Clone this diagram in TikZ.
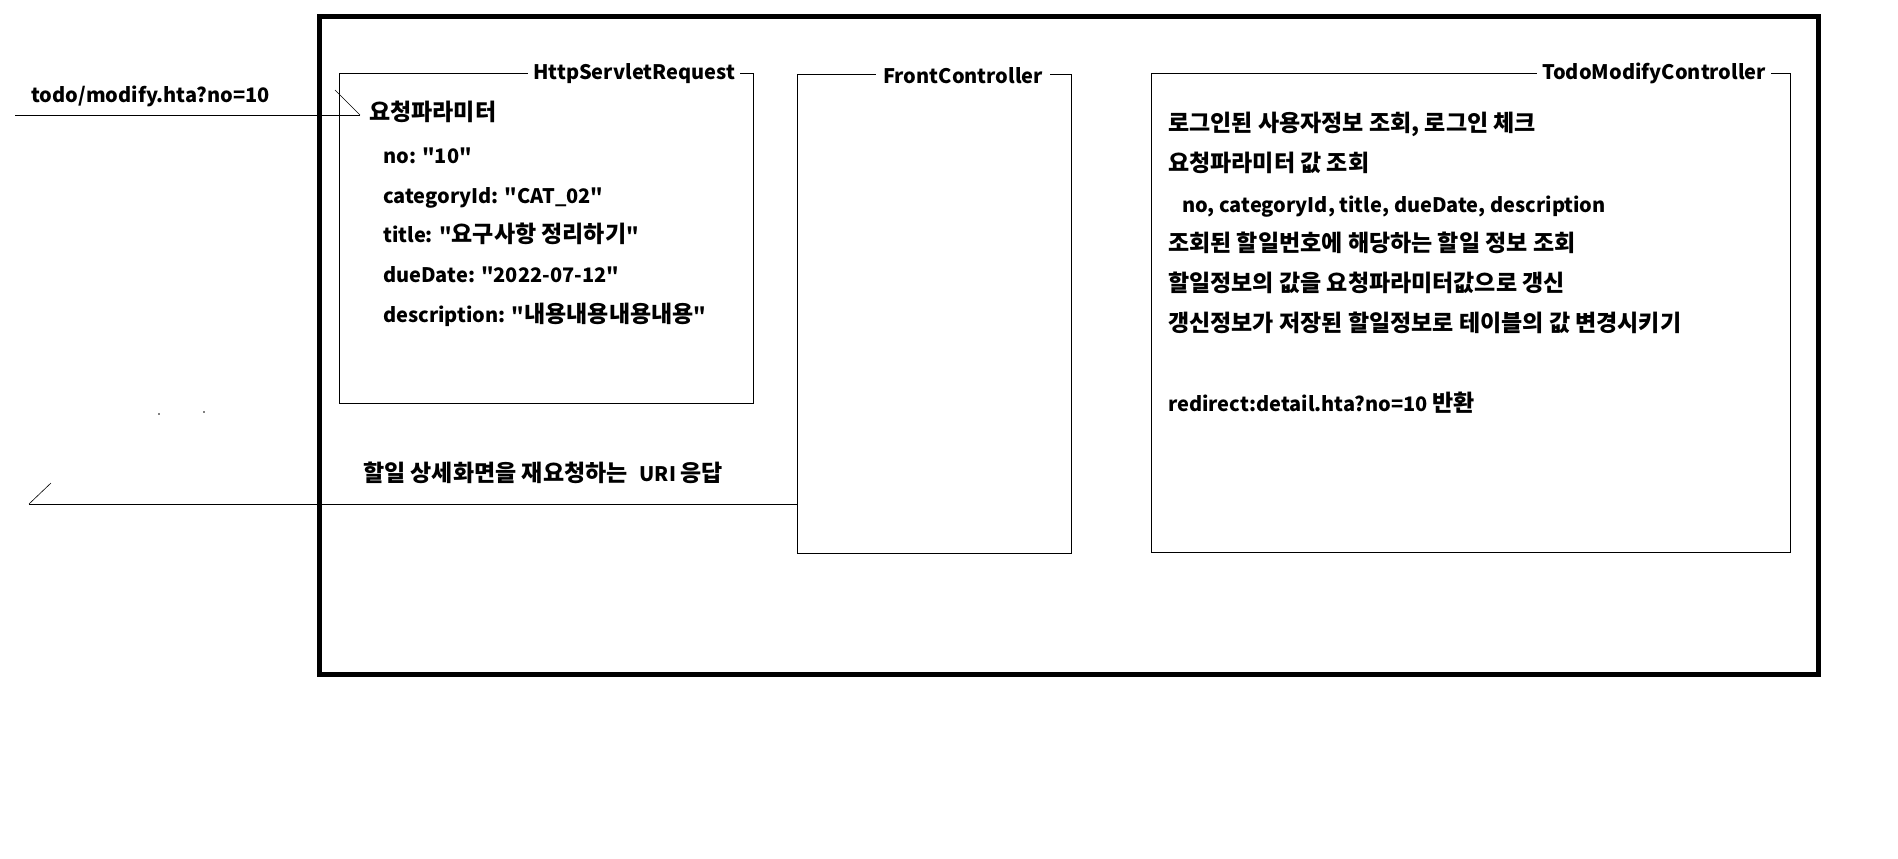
\documentclass[tikz,border=0pt]{standalone}
\usepackage{fontspec}
\setmainfont{Noto Sans CJK KR}[Ligatures=TeXOff]
\newfontfamily\krfont{Noto Sans CJK KR}[Scale=1.15,Ligatures=TeXOff]
\newcommand{\ko}[1]{{\krfont\bfseries #1}}
\newcommand{\qq}{\char34\relax}
\begin{document}
\begin{tikzpicture}[x=1pt,y=-1pt,
  box/.style={draw=black,line width=1pt,inner sep=0pt,fill=none},
  ttl/.style={fill=white,inner xsep=5pt,inner ysep=1pt,anchor=base west,font=\bfseries\fontsize{20}{24}\selectfont},
  txt/.style={inner sep=0pt,anchor=base west,font=\bfseries\fontsize{20}{24}\selectfont},
  conn/.style={draw=black,line width=1pt},
  tick/.style={draw=black,line width=0.6pt}]
\useasboundingbox (0,0) rectangle (1898,859);
\fill[white] (0,0) rectangle (1898,859);
% outer frame
\node[draw=black,line width=5pt,inner sep=0pt,minimum width=1499pt,minimum height=657pt] (outer) at (1068.5,345.5) {};
% boxes
\node[box,minimum width=414pt,minimum height=329pt] (req) at (546,238.5) {};
\node[box,minimum width=274pt,minimum height=478pt] (front) at (934,314) {};
\node[box,minimum width=639pt,minimum height=478pt] (todo) at (1470.5,313) {};
% titles
\node[ttl] (reqt) at (528,79) {HttpServletRequest};
\node[ttl,inner xsep=7pt] (frontt) at (876,83) {FrontController};
\node[ttl] (todot) at (1537,79) {TodoModifyController};
% request box contents
\node[txt,inner xsep=9pt] (param) at (360,121) {\ko{요청파라미터}};
\node[txt] (p1) at (383,163) {no: \qq10\qq};
\node[txt] (p2) at (383,203) {categoryId: \qq CAT\_02\qq};
\node[txt] (p3) at (383,242) {title: \qq\ko{요구사항 정리하기}\qq};
\node[txt] (p4) at (383,282) {dueDate: \qq2022-07-12\qq};
\node[txt] (p5) at (383,322) {description: \qq\ko{내용내용내용내용}\qq};
% controller contents
\node[txt] (c1) at (1168,131) {\ko{로그인된 사용자정보 조회, 로그인 체크}};
\node[txt] (c2) at (1168,171) {\ko{요청파라미터 값 조회}};
\node[txt] (c3) at (1182,212) {no, categoryId, title, dueDate, description};
\node[txt] (c4) at (1168,251) {\ko{조회된 할일번호에 해당하는 할일 정보 조회}};
\node[txt] (c5) at (1168,291) {\ko{할일정보의 값을 요청파라미터값으로 갱신}};
\node[txt] (c6) at (1168,331) {\ko{갱신정보가 저장된 할일정보로 테이블의 값 변경시키기}};
\node[txt] (c7) at (1168,411) {redirect:detail.hta?no=10 \ko{반환}};
% request connector
\node[txt] (url) at (31,102) {todo/modify.hta?no=10};
\coordinate (reqstart) at (15,115);
\draw[conn] (reqstart) -- (reqstart -| param.west);
\draw[tick] (reqstart -| param.west) -- ++(-25,-25);
% response connector
\node[txt] (resp) at (363,481) {\ko{할일 상세화면을 재요청하는}\hspace{12pt}URI \ko{응답}};
\coordinate (respend) at (29,504);
\draw[conn] (respend) -- (respend -| front.west);
\draw[tick] (respend) -- ++(22,-21);
% specks
\fill (159,414) circle (0.8pt);
\fill (204,412) circle (0.8pt);
\end{tikzpicture}
\end{document}
